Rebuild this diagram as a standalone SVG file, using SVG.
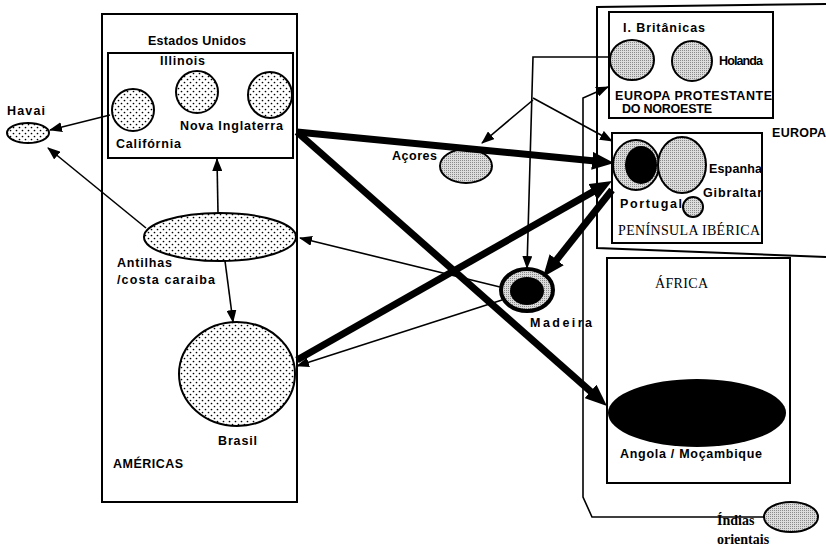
<svg xmlns="http://www.w3.org/2000/svg" width="826" height="557" viewBox="0 0 826 557">
<defs>
<pattern id="dots" width="6" height="6" patternUnits="userSpaceOnUse">
<rect width="6" height="6" fill="#fff"/>
<circle cx="1.5" cy="1.5" r="0.85" fill="#000"/>
<circle cx="4.5" cy="4.5" r="0.85" fill="#000"/>
</pattern>
<pattern id="gray" width="2" height="2" patternUnits="userSpaceOnUse">
<rect width="2" height="2" fill="#dcdcdc"/>
<rect width="1" height="1" fill="#8a8a8a"/>
</pattern>
<marker id="ah" viewBox="0 0 13 10" markerWidth="13" markerHeight="10" refX="12" refY="5" orient="auto" markerUnits="userSpaceOnUse">
<path d="M0,0 L13,5 L0,10 z" fill="#000"/>
</marker>
<marker id="ahb" viewBox="0 0 22 18" markerWidth="22" markerHeight="18" refX="8" refY="9" orient="auto" markerUnits="userSpaceOnUse">
<path d="M0,0 L22,9 L0,18 z" fill="#000"/>
</marker>
</defs>
<style>
.box{fill:none;stroke:#000;stroke-width:2}
.lbl{font-family:"Liberation Sans",Arial,sans-serif;font-weight:bold;font-size:12.5px;fill:#000}
.ser{font-family:"Liberation Serif","Times New Roman",serif;font-size:14px;fill:#000}
.thin{fill:none;stroke:#000;stroke-width:1.6}
.thick{fill:none;stroke:#000;stroke-width:7}
.dot{fill:url(#dots);stroke:#000;stroke-width:2}
.gry{fill:url(#gray);stroke:#000;stroke-width:2}
</style>

<g id="americas">
<rect class="box" x="102" y="14" width="195" height="488"/>
<text class="lbl" x="113" y="468" textLength="70">AMÉRICAS</text>
</g>
<g id="estados-unidos">
<rect class="box" x="108" y="53" width="185" height="105"/>
<text class="lbl" x="148" y="45" textLength="98">Estados Unidos</text>
</g>
<g id="illinois">
<circle class="dot" cx="197" cy="92" r="21"/>
<text class="lbl" x="160" y="65" textLength="45">Illinois</text>
</g>
<g id="california">
<circle class="dot" cx="133" cy="110" r="21"/>
<text class="lbl" x="116" y="148" textLength="65">Califórnia</text>
</g>
<g id="nova-inglaterra">
<ellipse class="dot" cx="270" cy="95" rx="22" ry="23"/>
<text class="lbl" x="180" y="130" textLength="103">Nova Inglaterra</text>
</g>
<g id="havai">
<ellipse class="dot" cx="28" cy="133" rx="21" ry="10"/>
<text class="lbl" x="7" y="115" textLength="38">Havai</text>
</g>
<g id="antilhas">
<ellipse class="dot" cx="220" cy="237" rx="76" ry="24"/>
<text class="lbl" x="117" y="267" textLength="55">Antilhas</text>
<text class="lbl" x="117" y="284" textLength="98">/costa caraiba</text>
</g>
<g id="brasil">
<ellipse class="dot" cx="237" cy="374" rx="58" ry="52"/>
<text class="lbl" x="218" y="445" textLength="39">Brasil</text>
</g>

<g id="europa">
<path class="box" d="M826,4 L597,7 L597,248 L826,257"/>
<text class="lbl" x="772" y="137" textLength="54">EUROPA</text>
</g>
<g id="europa-protestante">
<rect class="box" x="609" y="12" width="164" height="106"/>
<text class="lbl" x="615" y="100" textLength="157">EUROPA PROTESTANTE</text>
<text class="lbl" x="622" y="113" textLength="90">DO NOROESTE</text>
</g>
<g id="britanicas">
<ellipse class="gry" cx="632" cy="60" rx="22" ry="20"/>
<text class="lbl" x="623" y="32" textLength="82">I. Britânicas</text>
</g>
<g id="holanda">
<circle class="gry" cx="692" cy="61" r="20"/>
<text class="lbl" x="719" y="65" textLength="44">Holanda</text>
</g>
<g id="iberica">
<rect class="box" x="612" y="133" width="150" height="110"/>
<text class="ser" x="618" y="235" textLength="142">PENÍNSULA IBÉRICA</text>
</g>
<g id="portugal">
<ellipse class="gry" cx="636" cy="165" rx="23" ry="25"/>
<ellipse cx="641" cy="165" rx="16" ry="19" fill="#000"/>
<text class="lbl" x="620" y="208" textLength="62">Portugal</text>
</g>
<g id="espanha">
<ellipse class="gry" cx="682" cy="165" rx="24" ry="28"/>
<text class="lbl" x="709" y="173" textLength="53">Espanha</text>
</g>
<g id="gibraltar">
<circle class="gry" cx="693" cy="207" r="10"/>
<text class="lbl" x="703" y="197" textLength="59">Gibraltar</text>
</g>
<g id="acores">
<ellipse class="gry" cx="466" cy="166" rx="26" ry="17"/>
<text class="lbl" x="392" y="160" textLength="45">Açores</text>
</g>
<g id="madeira">
<ellipse cx="527" cy="290" rx="26" ry="21" fill="url(#gray)" stroke="#000" stroke-width="4"/>
<ellipse cx="527" cy="291" rx="17" ry="14" fill="#000"/>
<text class="lbl" x="530" y="327" textLength="62">Madeira</text>
</g>
<g id="africa">
<rect class="box" x="607" y="258" width="183" height="225"/>
<text class="ser" x="655" y="288" textLength="53">ÁFRICA</text>
</g>
<g id="angola">
<ellipse cx="697" cy="413" rx="89" ry="34" fill="#000"/>
<text class="lbl" x="620" y="458" textLength="142">Angola / Moçambique</text>
</g>
<g id="indias">
<ellipse class="gry" cx="791" cy="517" rx="27" ry="15"/>
<text class="ser" font-weight="bold" font-size="13" x="717" y="525">Índias</text>
<text class="ser" font-weight="bold" font-size="13" x="717" y="544">orientais</text>
</g>

<g id="connectors">
<path class="thin" d="M110,115 L50,130" marker-end="url(#ah)"/>
<path class="thin" d="M146,228 L48,148" marker-end="url(#ah)"/>
<path class="thin" d="M218,213 L217,159" marker-end="url(#ah)"/>
<path class="thin" d="M225,261 L233,322" marker-end="url(#ah)"/>
<path class="thin" d="M500,287 L300,238" marker-end="url(#ah)"/>
<path class="thin" d="M502,300 L297,366" marker-end="url(#ah)"/>
<path class="thin" d="M609,57 L533,57 L527,268" marker-end="url(#ah)"/>
<path class="thin" d="M533,100 L482,143" marker-end="url(#ah)"/>
<path class="thin" d="M533,98 L612,141" marker-end="url(#ah)"/>
<path class="thin" d="M764,517 L592,517 L583,497 L583,98 L608,87" marker-end="url(#ah)"/>
<path class="thick" stroke-width="6" d="M297,132 L600.1,161.6" marker-end="url(#ahb)"/>
<path class="thick" d="M297,132 L596.5,396.7" marker-end="url(#ahb)"/>
<path class="thick" d="M297,360 L599.8,187.9" marker-end="url(#ahb)"/>
<path class="thick" stroke-width="6" d="M612,190 L551.7,266" marker-end="url(#ahb)"/>
</g>
</svg>
